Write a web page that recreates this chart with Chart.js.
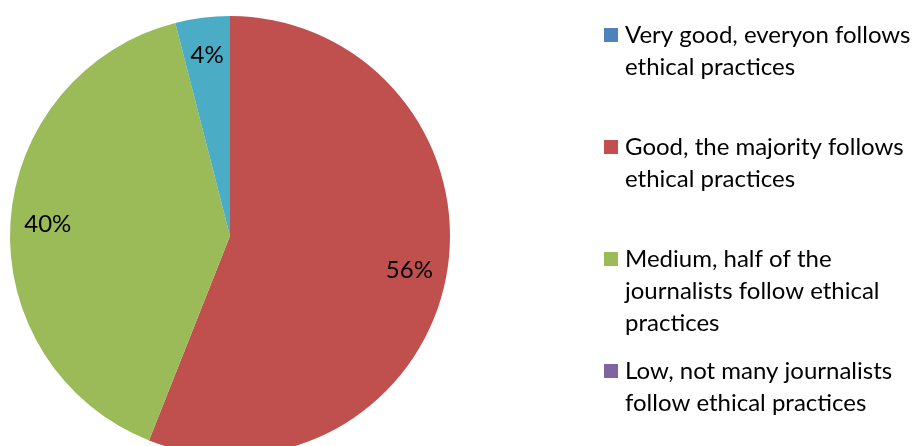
<!DOCTYPE html>
<html>
<head>
<meta charset="utf-8">
<script src="https://cdn.jsdelivr.net/npm/chart.js@4/dist/chart.umd.min.js"></script>
<style>
  html, body { margin: 0; padding: 0; background: #fff; overflow: hidden; }
  #wrap { position: relative; width: 922px; height: 466px; }
</style>
</head>
<body>
<div id="wrap"><canvas id="ethicsPie"></canvas></div>
<script>
// legend text, one array per entry (line breaks as in the original)
const categories = [
  ["Very good, everyon follows", "ethical practices"],
  ["Good, the majority follows", "ethical practices"],
  ["Medium, half of the", "journalists follow ethical", "practices"],
  ["Low, not many journalists", "follow ethical practices"],
  ["Other"]
];
const shares = [0, 56, 40, 0, 4];
const sliceColors = ['#4F81BD', '#C0504D', '#9BBB59', '#8064A2', '#4BACC6'];

const FONT = "Lato, 'Open Sans', sans-serif";

// percent labels inside the slices
const sliceLabels = {
  id: 'sliceLabels',
  afterDatasetsDraw(chart) {
    const ctx = chart.ctx;
    const meta = chart.getDatasetMeta(0);
    ctx.save();
    ctx.font = '24px ' + FONT;
    ctx.fillStyle = '#000';
    ctx.textAlign = 'center';
    ctx.textBaseline = 'middle';
    meta.data.forEach((arc, i) => {
      if (!shares[i]) return;
      const mid = (arc.startAngle + arc.endAngle) / 2;
      const d = arc.outerRadius * 0.83;
      ctx.fillText(shares[i] + '%', arc.x + Math.cos(mid) * d, arc.y + Math.sin(mid) * d);
    });
    ctx.restore();
  }
};

// legend on the right, entries spaced evenly like the office chart
const sideLegend = {
  id: 'sideLegend',
  afterDraw(chart) {
    const ctx = chart.ctx;
    const left = 604, top = 35, step = 112, lineH = 32, box = 14;
    ctx.save();
    ctx.font = '24px ' + FONT;
    ctx.textBaseline = 'middle';
    ctx.textAlign = 'left';
    categories.forEach((lines, i) => {
      const y = top + i * step;
      ctx.fillStyle = sliceColors[i];
      ctx.fillRect(left, y - box / 2, box, box);
      ctx.fillStyle = '#000';
      lines.forEach((t, j) => ctx.fillText(t, left + 21, y + j * lineH));
    });
    ctx.restore();
  }
};

new Chart(document.getElementById('ethicsPie'), {
  type: 'pie',
  data: {
    labels: categories,
    datasets: [{
      data: shares,
      backgroundColor: sliceColors,
      borderWidth: 0
    }]
  },
  options: {
    responsive: true,
    maintainAspectRatio: false,
    animation: false,
    layout: { padding: { left: 10, top: 16, right: 472, bottom: 10 } },
    plugins: {
      legend: { display: false },
      tooltip: { enabled: false }
    }
  },
  plugins: [sliceLabels, sideLegend]
});
</script>
</body>
</html>
